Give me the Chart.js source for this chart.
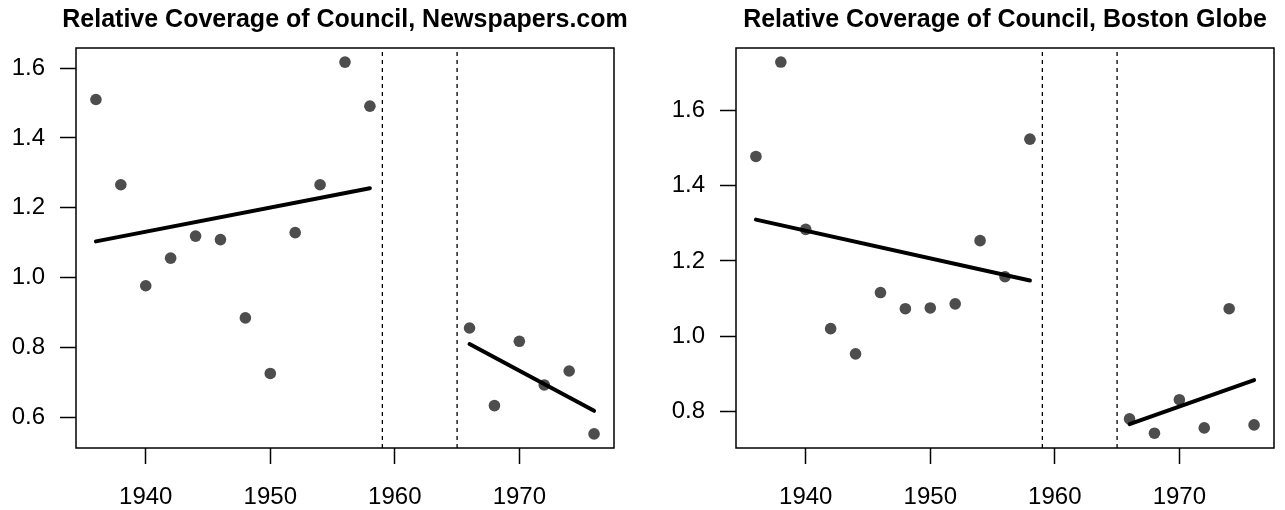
<!DOCTYPE html>
<html>
<head>
<meta charset="utf-8">
<script src="https://cdn.jsdelivr.net/npm/chart.js@4.4.1/dist/chart.umd.min.js"></script>
<style>
  html, body { margin: 0; padding: 0; background: #fff; }
  #wrap { position: relative; width: 1285px; height: 510px; }
  canvas { position: absolute; top: 0; }
  #newsChart { left: 0; }
  #globeChart { left: 642px; }
</style>
</head>
<body>
<div id="wrap">
  <canvas id="newsChart" width="642" height="510"></canvas>
  <canvas id="globeChart" width="643" height="510"></canvas>
</div>
<script>
// years
const preYears = [1936, 1938, 1940, 1942, 1944, 1946, 1948, 1950, 1952, 1954, 1956, 1958];
const postYears = [1966, 1968, 1970, 1972, 1974, 1976];
const cutYears = [1959, 1965];
const xTicks = [1940, 1950, 1960, 1970];

// Newspapers.com
const newsPre = [1.510, 1.266, 0.977, 1.056, 1.119, 1.109, 0.885, 0.726, 1.129, 1.266, 1.617, 1.491];
const newsPost = [0.856, 0.634, 0.818, 0.693, 0.733, 0.553];
const newsPreFit = [1.104, 1.256];
const newsPostFit = [0.810, 0.619];
const newsYTicks = [0.6, 0.8, 1.0, 1.2, 1.4, 1.6];

// Boston Globe
const globePre = [1.478, 1.729, 1.284, 1.020, 0.953, 1.116, 1.073, 1.075, 1.086, 1.254, 1.158, 1.524];
const globePost = [0.780, 0.742, 0.831, 0.756, 1.073, 0.764];
const globePreFit = [1.310, 1.148];
const globePostFit = [0.766, 0.883];
const globeYTicks = [0.8, 1.0, 1.2, 1.4, 1.6];

const FONT = "'Liberation Sans', Arial, Helvetica, sans-serif";

function pairs(xs, ys) {
  return xs.map((x, i) => ({ x: x, y: ys[i] }));
}

// box + title, drawn the way base R does it
const frame = {
  id: "frame",
  afterDatasetsDraw(chart, args, opts) {
    const a = chart.chartArea;
    const ctx = chart.ctx;
    ctx.save();
    ctx.strokeStyle = "#000";
    ctx.lineWidth = 1.5;
    ctx.strokeRect(a.left, a.top, a.right - a.left, a.bottom - a.top);
    ctx.fillStyle = "#000";
    ctx.font = "bold 25px " + FONT;
    ctx.textAlign = "center";
    ctx.textBaseline = "alphabetic";
    ctx.fillText(opts.text, (a.left + a.right) / 2, 27);
    ctx.restore();
  },
};

function makePanel(id, title, pre, post, preFit, postFit, yTicks, yMin, yMax, padLeft, padRight) {
  const ctx = document.getElementById(id).getContext("2d");
  const fitLine = (xs, ys) => ({
    type: "line",
    data: pairs(xs, ys),
    borderColor: "#000",
    borderWidth: 4,
    borderCapStyle: "round",
    pointRadius: 0,
    order: 0,
  });
  const cutLine = (yr) => ({
    type: "line",
    data: [{ x: yr, y: yMin }, { x: yr, y: yMax }],
    borderColor: "#000",
    borderWidth: 1.3,
    borderDash: [4, 4],
    pointRadius: 0,
    order: 1,
  });
  return new Chart(ctx, {
    type: "scatter",
    data: {
      datasets: [
        fitLine([preYears[0], preYears[preYears.length - 1]], preFit),
        fitLine([postYears[0], postYears[postYears.length - 1]], postFit),
        cutLine(cutYears[0]),
        cutLine(cutYears[1]),
        {
          data: pairs(preYears.concat(postYears), pre.concat(post)),
          backgroundColor: "#4d4d4d",
          borderWidth: 0,
          pointRadius: 5.8,
          order: 2,
        },
      ],
    },
    options: {
      responsive: false,
      animation: false,
      devicePixelRatio: 1,
      layout: { padding: { left: padLeft, right: padRight, top: 48, bottom: 0 } },
      plugins: {
        legend: { display: false },
        tooltip: { enabled: false },
        title: { display: false },
        frame: { text: title },
      },
      scales: {
        x: {
          type: "linear",
          min: 1934.4,
          max: 1977.6,
          afterBuildTicks: (s) => { s.ticks = xTicks.map((v) => ({ value: v })); },
          afterFit: (s) => { s.height = 62; },
          border: { display: false },
          grid: { drawOnChartArea: false, drawTicks: true, tickLength: 16, tickWidth: 1.5, tickColor: "#000" },
          ticks: {
            color: "#000",
            padding: 19,
            maxRotation: 0,
            font: { family: FONT, size: 24 },
            callback: (v) => String(v),
          },
        },
        y: {
          min: yMin,
          max: yMax,
          afterBuildTicks: (s) => { s.ticks = yTicks.map((v) => ({ value: v })); },
          afterFit: (s) => { s.width = 76; },
          border: { display: false },
          grid: { drawOnChartArea: false, drawTicks: true, tickLength: 16, tickWidth: 1.5, tickColor: "#000" },
          ticks: {
            color: "#000",
            padding: 15,
            font: { family: FONT, size: 24 },
            callback: (v) => Number(v).toFixed(1),
          },
        },
      },
    },
    plugins: [frame],
  });
}

makePanel("newsChart", "Relative Coverage of Council, Newspapers.com",
  newsPre, newsPost, newsPreFit, newsPostFit, newsYTicks, 0.5126, 1.6574, 0, 28);
makePanel("globeChart", "Relative Coverage of Council, Boston Globe",
  globePre, globePost, globePreFit, globePostFit, globeYTicks, 0.7026, 1.7664, 18, 11);
</script>
</body>
</html>
